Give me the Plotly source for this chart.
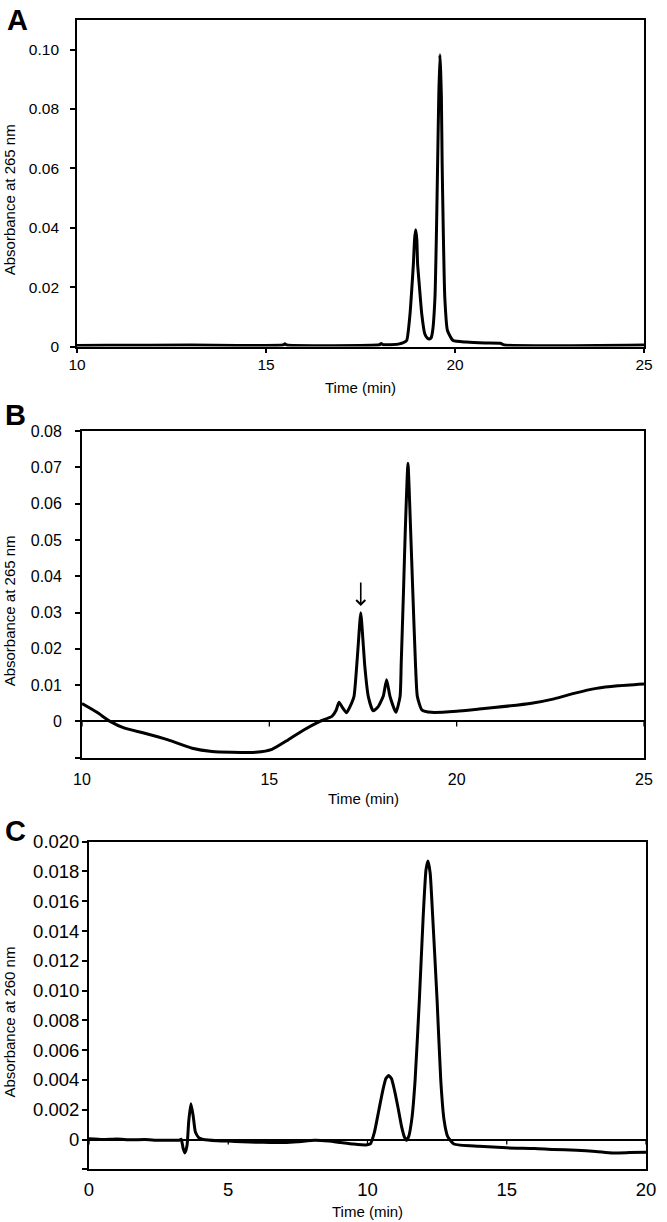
import plotly.graph_objects as go

W, H = 667, 1222

# ---------------- Panel A ----------------
a_time = [10.0, 10.8, 13.0, 15.45, 15.5, 15.55, 18.0, 18.05, 18.1, 18.5, 18.62, 18.72,
          18.81, 18.86, 18.90, 18.93, 18.96, 18.99, 19.01, 19.06, 19.12, 19.20, 19.27, 19.32,
          19.37, 19.41, 19.47, 19.51, 19.54, 19.57, 19.60, 19.62, 19.64, 19.66, 19.69, 19.73,
          19.80, 19.95, 20.3, 20.8, 21.2, 21.3, 25.0]
a_abs = [0.0003, 0.0004, 0.0005, 0.0005, 0.0009, 0.0005, 0.0006, 0.001, 0.0006, 0.0008, 0.0012, 0.002,
         0.011, 0.02, 0.028, 0.036, 0.0393, 0.036, 0.028, 0.02, 0.011, 0.0043, 0.0028, 0.0025,
         0.003, 0.0054, 0.0166, 0.039, 0.0616, 0.084, 0.0983, 0.093, 0.084, 0.0616, 0.039, 0.0166,
         0.0054, 0.002, 0.0015, 0.0012, 0.0011, 0.0005, 0.0005]
a_xticks = [10, 15, 20, 25]
a_yticks = [0, 0.02, 0.04, 0.06, 0.08, 0.10]
a_ytext = ["0", "0.02", "0.04", "0.06", "0.08", "0.10"]

# ---------------- Panel B ----------------
b_time = [10.0, 10.4, 10.75, 11.12, 11.65, 12.3, 12.94, 13.47, 14.0, 14.64, 15.07, 15.5, 15.93,
          16.35, 16.67, 16.78, 16.86, 16.94, 17.06, 17.15, 17.26, 17.33, 17.37, 17.44, 17.51,
          17.55, 17.64, 17.77, 17.9, 18.04, 18.13, 18.22, 18.38, 18.49, 18.52, 18.58, 18.63,
          18.70, 18.77, 18.83, 18.90, 18.95, 19.07, 19.33, 20.0, 20.6, 21.0, 22.0, 22.6, 23.16,
          23.73, 24.3, 25.0]
b_abs = [0.0049, 0.0025, 0.0, -0.0018, -0.0032, -0.0051, -0.0074, -0.0083, -0.0085, -0.0085,
         -0.0077, -0.0051, -0.0023, 0.0, 0.0014, 0.003, 0.0053, 0.004, 0.0024, 0.004, 0.0069,
         0.015, 0.0207, 0.0299, 0.0207, 0.015, 0.0069, 0.0029, 0.004, 0.0069, 0.0115, 0.0069,
         0.0025, 0.0069, 0.016, 0.0355, 0.053, 0.0711, 0.053, 0.0355, 0.016, 0.0069, 0.0032,
         0.0025, 0.0028, 0.0034, 0.0038, 0.0050, 0.0062, 0.0078, 0.0091, 0.0098, 0.0103]
b_xticks = [10, 15, 20, 25]
b_yticks = [-0.01, 0, 0.01, 0.02, 0.03, 0.04, 0.05, 0.06, 0.07, 0.08]
b_ytext = ["", "0", "0.01", "0.02", "0.03", "0.04", "0.05", "0.06", "0.07", "0.08"]
b_arrow_time = 17.44
b_arrow_from = 0.0387
b_arrow_to = 0.0318

# ---------------- Panel C ----------------
c_time = [0.0, 0.5, 1.0, 1.5, 2.0, 2.5, 3.0, 3.24, 3.31, 3.38, 3.44, 3.52, 3.58, 3.66, 3.74,
          3.82, 3.95, 4.1, 4.6, 5.0, 5.5, 6.0, 6.5, 7.0, 7.5, 8.1, 8.6, 9.04, 9.5, 9.95, 10.1,
          10.25, 10.4, 10.55, 10.66, 10.76, 10.86, 10.97, 11.1, 11.22, 11.32, 11.4, 11.48, 11.6,
          11.71, 11.86, 12.0, 12.1, 12.17, 12.25, 12.34, 12.5, 12.63, 12.75, 12.88, 13.1, 14.0,
          15.0, 16.0, 16.67, 17.5, 18.2, 18.8, 19.4, 20.0]
c_abs = [0.00005, 0.0, 0.00003, -0.00002, 0.0, -0.00005, -0.00005, -0.00005, 0.00002, -0.0006,
         -0.0009, -0.0004, 0.0012, 0.0024, 0.0016, 0.0005, 0.0001, 0.0, -0.00008, -0.0001,
         -0.00015, -0.00018, -0.0002, -0.0002, -0.00015, -0.00005, -0.0001, -0.0002, -0.0003,
         -0.00036, -0.0003, 0.0005, 0.0019, 0.0033, 0.0041, 0.0043, 0.0041, 0.0033, 0.0021,
         0.0009, 0.0002, -0.00005, 0.0002, 0.0015, 0.004, 0.0093, 0.015, 0.0181, 0.0187, 0.0179,
         0.015, 0.0093, 0.004, 0.0013, 0.0002, -0.0003, -0.00045, -0.00056, -0.0006, -0.00067,
         -0.00072, -0.0008, -0.0009, -0.00088, -0.00085]
c_xticks = [0, 5, 10, 15, 20]
c_yticks = [-0.002, 0, 0.002, 0.004, 0.006, 0.008, 0.010, 0.012, 0.014, 0.016, 0.018, 0.020]
c_ytext = ["", "0", "0.002", "0.004", "0.006", "0.008", "0.010", "0.012", "0.014", "0.016",
           "0.018", "0.020"]

FONT = "Liberation Sans, Arial, sans-serif"

# panel boxes in pixels: (left, right, top, bottom)
boxes = {
    "A": (77, 644, 20, 346.5),
    "B": (82, 644, 431, 757.7),
    "C": (89, 646, 841.7, 1169.3),
}


def xdom(b):
    return [b[0] / W, b[1] / W]


def ydom(b):
    return [1 - b[3] / H, 1 - b[2] / H]


def tf(size):
    return dict(family=FONT, size=size, color="black")


fig = go.Figure()
line = dict(color="black", width=3, shape="spline", smoothing=0.5)
fig.add_trace(go.Scatter(x=a_time, y=a_abs, mode="lines", line=line, xaxis="x", yaxis="y",
                         showlegend=False, hoverinfo="skip"))
fig.add_trace(go.Scatter(x=b_time, y=b_abs, mode="lines", line=line, xaxis="x2", yaxis="y2",
                         showlegend=False, hoverinfo="skip"))
fig.add_trace(go.Scatter(x=c_time, y=c_abs, mode="lines", line=line, xaxis="x3", yaxis="y3",
                         showlegend=False, hoverinfo="skip"))

axcommon = dict(showline=True, linecolor="black", linewidth=1.8, mirror=True, showgrid=False,
                tickcolor="black", tickwidth=1.6, ticklen=5, automargin=False)

fig.update_layout(
    template="none",
    width=W, height=H, autosize=False,
    margin=dict(l=0, r=0, t=0, b=0),
    paper_bgcolor="white", plot_bgcolor="white",
    xaxis=dict(axcommon, domain=xdom(boxes["A"]), anchor="y", range=[10, 25], tickvals=a_xticks,
               ticks="outside", zeroline=False, tickfont=tf(15.5), ticklabelstandoff=-2),
    yaxis=dict(axcommon, domain=ydom(boxes["A"]), anchor="x", range=[0, 0.11], tickvals=a_yticks,
               ticktext=a_ytext, ticks="outside", zeroline=False, tickfont=tf(15.5),
               ticklabelstandoff=8),
    xaxis2=dict(axcommon, domain=xdom(boxes["B"]), anchor="y2", range=[10, 25], tickvals=b_xticks,
                ticks="", zeroline=False, tickfont=tf(16), ticklabelstandoff=6),
    yaxis2=dict(axcommon, domain=ydom(boxes["B"]), anchor="x2", range=[-0.01, 0.08],
                tickvals=b_yticks, ticktext=b_ytext, ticks="outside", zeroline=True,
                zerolinecolor="black", zerolinewidth=1.7, tickfont=tf(16), ticklabelstandoff=10),
    xaxis3=dict(axcommon, domain=xdom(boxes["C"]), anchor="y3", range=[0, 20], tickvals=c_xticks,
                ticks="", zeroline=False, tickfont=tf(18.5), ticklabelstandoff=3),
    yaxis3=dict(axcommon, domain=ydom(boxes["C"]), anchor="x3", range=[-0.002, 0.020],
                tickvals=c_yticks, ticktext=c_ytext, ticks="outside", zeroline=True,
                zerolinecolor="black", zerolinewidth=1.7, tickfont=tf(18.5), ticklabelstandoff=-1),
)

# x tick marks on the zero line for panels B and C
for xa, ya, ticks in (("x2", "y2", b_xticks), ("x3", "y3", c_xticks)):
    for tv in ticks:
        fig.add_shape(type="line", xref=xa, yref=ya, x0=tv, x1=tv, ysizemode="pixel", yanchor=0,
                      y0=-5, y1=0, line=dict(color="black", width=1.3))

annots = []
# panel letters
for letter, (cx, cy) in {"A": (17, 20), "B": (15, 415), "C": (15, 831)}.items():
    annots.append(dict(text="<b>%s</b>" % letter, x=cx / W, y=1 - cy / H, xref="paper", yref="paper",
                       showarrow=False, xanchor="center", yanchor="middle",
                       font=dict(family=FONT, size=29, color="black")))
# axis titles
for key, ylab, ty in (("A", "Absorbance at 265 nm", 387), ("B", "Absorbance at 265 nm", 798),
                      ("C", "Absorbance at 260 nm", 1211)):
    l, r, t, b = boxes[key]
    annots.append(dict(text="Time (min)", x=(l + r) / 2 / W, y=1 - ty / H, xref="paper",
                       yref="paper", showarrow=False, xanchor="center", yanchor="middle",
                       font=tf(15)))
    annots.append(dict(text=ylab, x=9 / W, y=1 - ((t + b) / 2 + 17) / H, xref="paper",
                       yref="paper", showarrow=False, xanchor="center", yanchor="middle",
                       textangle=-90, font=tf(15)))
# arrow in panel B
annots.append(dict(x=b_arrow_time, y=b_arrow_to, ax=b_arrow_time, ay=b_arrow_from, xref="x2",
                   yref="y2", axref="x2", ayref="y2", showarrow=True, arrowhead=4, arrowsize=1.1,
                   arrowwidth=1.6, arrowcolor="black", text=""))
fig.update_layout(annotations=annots)

fig.write_html("out.html", config={"displayModeBar": False},
               post_script="document.body.style.margin='0';")
